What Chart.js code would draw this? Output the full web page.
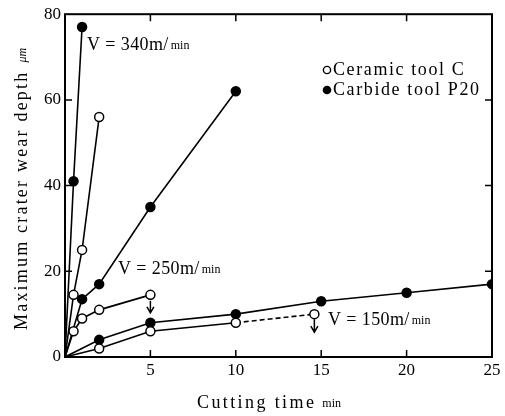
<!DOCTYPE html>
<html>
<head>
<meta charset="utf-8">
<script src="https://cdn.jsdelivr.net/npm/chart.js@4/dist/chart.umd.min.js"></script>
<style>
  body { margin: 0; background: #fff; }
  #wrap { width: 505px; height: 416px; }
</style>
</head>
<body>
<div id="wrap"><canvas id="wear"></canvas></div>
<script>
// cutting time (min) and crater depth (um) for each tool / speed
const cer340Time = [0, 0.5, 1, 2];
const cer340Depth = [0, 14.5, 25, 56];
const carb340Time = [0, 0.5, 1];
const carb340Depth = [0, 41, 77];
const cer250Time = [0, 0.5, 1, 2, 5];
const cer250Depth = [0, 6, 9, 11, 14.5];
const carb250Time = [0, 1, 2, 5, 10];
const carb250Depth = [0, 13.5, 17, 35, 62];
const cer150Time = [0, 2, 5, 10, 14.6];
const cer150Depth = [0, 2, 6, 8, 10];
const carb150Time = [0, 2, 5, 10, 15, 20, 25];
const carb150Depth = [0, 4, 8, 10, 13, 15, 17];

const xTicks = [0, 5, 10, 15, 20, 25];
const yTicks = [0, 20, 40, 60, 80];

const FONT = '"Liberation Serif", "DejaVu Serif", serif';

function pts(xs, ys) {
    return xs.map((x, i) => ({ x: x, y: ys[i] }));
}

function series(xs, ys, filled, dashFrom) {
    return {
        data: pts(xs, ys),
        showLine: true,
        borderColor: '#000',
        borderWidth: 1.6,
        backgroundColor: filled ? '#000' : '#fff',
        pointBorderColor: '#000',
        pointBorderWidth: 1.5,
        pointRadius: ctx => ctx.dataIndex === 0 ? 0 : 4.5,
        segment: {
            borderDash: ctx => (dashFrom !== undefined && ctx.p0DataIndex >= dashFrom) ? [5, 3] : undefined
        }
    };
}

// text with a small "min" unit after it
function withUnit(c, text, x, y, size, spacing, unitGap) {
    c.font = size + 'px ' + FONT;
    c.letterSpacing = spacing + 'px';
    c.fillText(text, x, y);
    const w = c.measureText(text).width;
    c.font = '12px ' + FONT;
    c.letterSpacing = '0px';
    c.fillText('min', x + w + unitGap, y + 1);
}

// frame, inward ticks, titles, speed labels, legend and arrows
const decor = {
    id: 'decor',
    afterDatasetsDraw(chart) {
        const c = chart.ctx;
        const a = chart.chartArea;
        const xs = chart.scales.x, ys = chart.scales.y;
        c.save();
        c.strokeStyle = '#000';
        c.fillStyle = '#000';
        c.lineWidth = 2;
        c.strokeRect(a.left, a.top, a.right - a.left, a.bottom - a.top);

        c.lineWidth = 1.5;
        c.beginPath();
        xTicks.slice(1, -1).forEach(v => {
            const px = xs.getPixelForValue(v);
            c.moveTo(px, a.bottom); c.lineTo(px, a.bottom - 7);
            c.moveTo(px, a.top); c.lineTo(px, a.top + 7);
        });
        yTicks.slice(1, -1).forEach(v => {
            const py = ys.getPixelForValue(v);
            c.moveTo(a.left, py); c.lineTo(a.left + 7, py);
            c.moveTo(a.right, py); c.lineTo(a.right - 7, py);
        });
        c.stroke();

        // arrows below the last ceramic points
        function arrow(x, yTop, yBot) {
            const px = xs.getPixelForValue(x);
            c.beginPath();
            c.moveTo(px, yTop); c.lineTo(px, yBot);
            c.moveTo(px - 3.5, yBot - 6); c.lineTo(px, yBot); c.lineTo(px + 3.5, yBot - 6);
            c.stroke();
        }
        arrow(cer250Time[4], ys.getPixelForValue(cer250Depth[4]) + 6, ys.getPixelForValue(cer250Depth[4]) + 18);
        arrow(cer150Time[4], ys.getPixelForValue(cer150Depth[4]) + 5, ys.getPixelForValue(cer150Depth[4]) + 18);

        // speed labels
        c.textBaseline = 'middle';
        c.textAlign = 'left';
        withUnit(c, 'V = 340m/', 87, 45, 18, 0.4, 2);
        withUnit(c, 'V = 250m/', 118, 269, 18, 0.4, 2);
        withUnit(c, 'V = 150m/', 328, 320, 18, 0.4, 2);

        // legend
        c.font = '18px ' + FONT;
        c.letterSpacing = '1.6px';
        c.beginPath();
        c.arc(327, 70, 3.6, 0, Math.PI * 2);
        c.lineWidth = 1.4;
        c.stroke();
        c.fillText('Ceramic tool C', 333, 70);
        c.beginPath();
        c.arc(327, 90, 4.3, 0, Math.PI * 2);
        c.fill();
        c.fillText('Carbide tool P20', 333, 90);

        // axis titles
        withUnit(c, 'Cutting time', 197, 403, 18, 2.4, 6);

        c.save();
        c.translate(22, 330);
        c.rotate(-Math.PI / 2);
        c.font = '18px ' + FONT;
        c.letterSpacing = '2.2px';
        const yt = 'Maximum crater wear depth';
        const yw = c.measureText(yt).width;
        c.fillText(yt, 0, 0);
        c.letterSpacing = '0px';
        c.font = 'italic 12px ' + FONT;
        c.fillText('μm', yw + 8, 1);
        c.restore();

        c.restore();
    }
};

new Chart(document.getElementById('wear'), {
    type: 'scatter',
    data: {
        datasets: [
            series(cer340Time, cer340Depth, false),
            series(carb340Time, carb340Depth, true),
            series(cer250Time, cer250Depth, false),
            series(carb250Time, carb250Depth, true),
            series(cer150Time, cer150Depth, false, 3),
            series(carb150Time, carb150Depth, true)
        ]
    },
    options: {
        responsive: true,
        maintainAspectRatio: false,
        animation: false,
        layout: { padding: { top: 13, right: 13, left: 0, bottom: 0 } },
        plugins: { legend: { display: false }, tooltip: { enabled: false } },
        scales: {
            x: {
                type: 'linear',
                min: 0, max: 25,
                afterFit: s => { s.height = 59; },
                afterBuildTicks: s => { s.ticks = xTicks.map(v => ({ value: v })); },
                grid: { display: false, drawTicks: false },
                border: { display: false },
                ticks: {
                    padding: 3,
                    color: '#000',
                    font: { family: FONT, size: 17 },
                    callback: v => v === 0 ? '' : v
                }
            },
            y: {
                min: 0, max: 80,
                afterFit: s => { s.width = 65; },
                afterBuildTicks: s => { s.ticks = yTicks.map(v => ({ value: v })); },
                grid: { display: false, drawTicks: false },
                border: { display: false },
                ticks: {
                    padding: 4,
                    color: '#000',
                    font: { family: FONT, size: 17 }
                }
            }
        }
    },
    plugins: [decor]
});
</script>
</body>
</html>
